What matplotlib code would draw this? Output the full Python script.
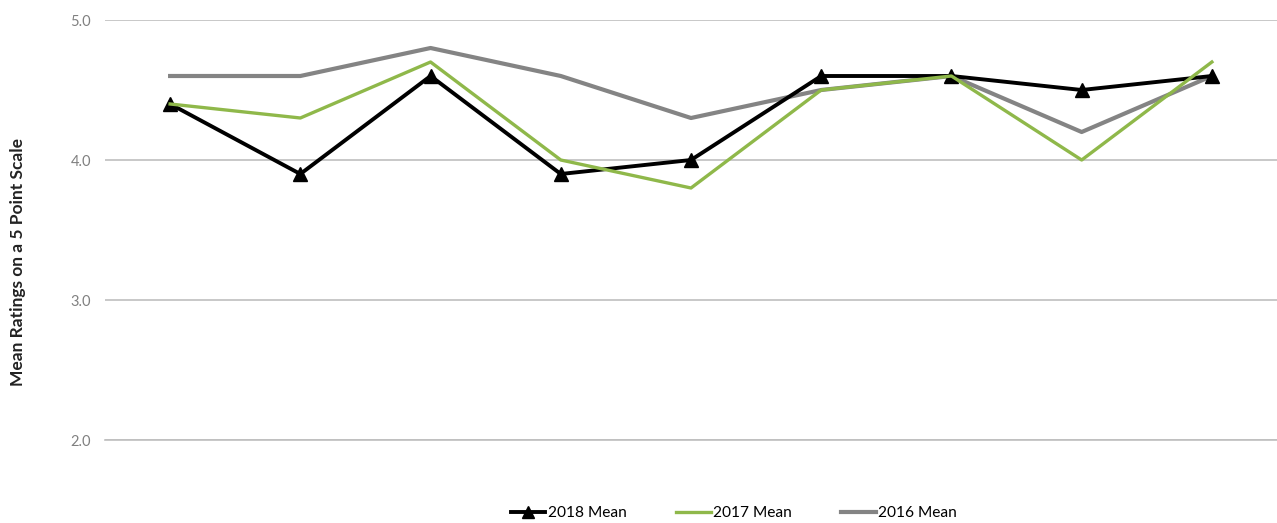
import matplotlib
matplotlib.use("Agg")
import matplotlib.pyplot as plt

plt.rcParams['font.family'] = ['Lato', 'DejaVu Sans']

# one point per survey item (no category labels shown on the chart)
items = list(range(9))
mean_2018 = [4.4, 3.9, 4.6, 3.9, 4.0, 4.6, 4.6, 4.5, 4.6]
mean_2017 = [4.4, 4.3, 4.7, 4.0, 3.8, 4.5, 4.6, 4.0, 4.7]
mean_2016 = [4.6, 4.6, 4.8, 4.6, 4.3, 4.5, 4.6, 4.2, 4.6]
yticks = [2.0, 3.0, 4.0, 5.0]

fig = plt.figure(figsize=(12.77, 5.23), dpi=100)
ax = fig.add_axes([105 / 1277, 1 - 440 / 523, 1 - 105 / 1277, 420 / 523])

ax.plot(items, mean_2018, color='black', lw=2.8, marker='^', markersize=10,
        label='2018 Mean', zorder=3)
ax.plot(items, mean_2017, color='#8fb84a', lw=2.4, label='2017 Mean', zorder=4)
ax.plot(items, mean_2016, color='#848484', lw=3.0, label='2016 Mean', zorder=2)

ax.set_xlim(-0.5, 8.5)
ax.set_ylim(2.0, 5.0)
ax.set_yticks(yticks)
ax.set_yticklabels([f'{v:.1f}' for v in yticks], color='#808080', fontsize=10.5)
ax.set_xticks([])
ax.grid(axis='y', color='#bfbfbf', lw=1.2)
ax.set_axisbelow(True)
for s in ax.spines.values():
    s.set_visible(False)
ax.spines['bottom'].set_visible(True)
ax.spines['bottom'].set_color('#bfbfbf')
ax.spines['bottom'].set_linewidth(1.2)
ax.tick_params(axis='y', length=0, pad=10)

fig.text(18 / 1277, 1 - 262 / 523, 'Mean Ratings on a 5 Point Scale', rotation=90,
         ha='center', va='center', fontsize=12.5, fontweight='bold', color='#222222')

fig.legend(loc='center', bbox_to_anchor=(734 / 1277, 1 - 513 / 523), ncol=3,
           frameon=False, fontsize=11.2, handlelength=2.2, handletextpad=0.15,
           columnspacing=3.2, markerscale=0.9)

fig.savefig('out.png', dpi=100)
